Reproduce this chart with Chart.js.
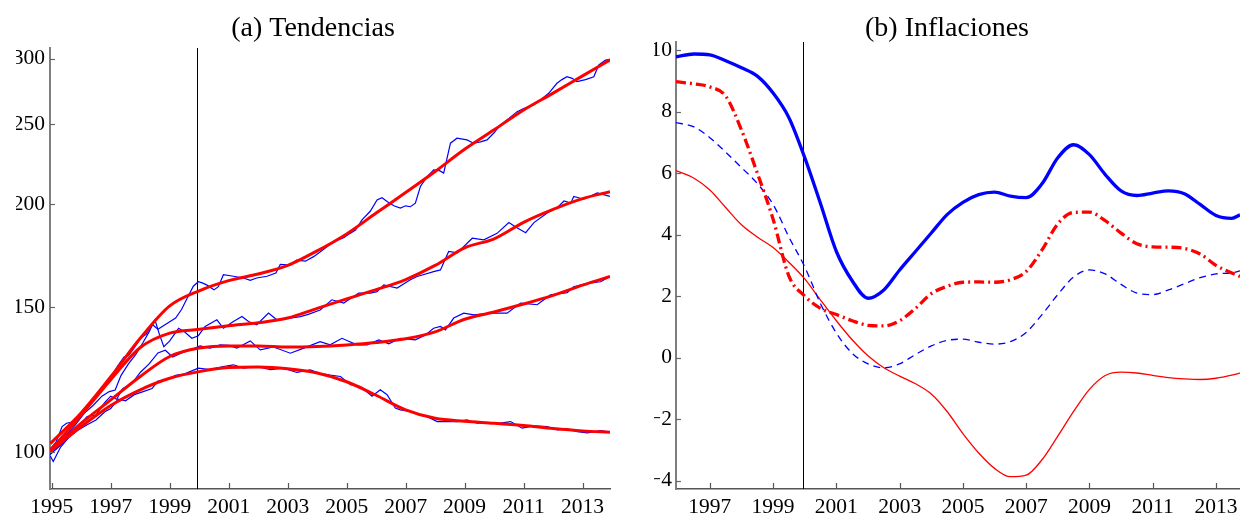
<!DOCTYPE html>
<html>
<head>
<meta charset="utf-8">
<script src="https://cdn.jsdelivr.net/npm/chart.js@4.4.1/dist/chart.umd.min.js"></script>
<style>
  html, body { margin: 0; padding: 0; background: #fff; overflow: hidden; width: 1240px; height: 515px; }
  #wrapA { position: absolute; left: 0; top: 0; }
  #wrapB { position: absolute; left: 630px; top: 0; }
</style>
</head>
<body>
<div id="wrapA"><canvas id="chartA" width="620" height="515"></canvas></div>
<div id="wrapB"><canvas id="chartB" width="630" height="515"></canvas></div>
<script>
// ---- panel (a): price indices (log scale), trends in red ----
const breakYear = 1999.93;
const leftXTicks = [1995, 1997, 1999, 2001, 2003, 2005, 2007, 2009, 2011, 2013];
const leftYTicks = [100, 150, 200, 250, 300];

const trendYears = [1994.95, 1996, 1997, 1998, 1999, 2000, 2001, 2002, 2003, 2004, 2005, 2006, 2007, 2008, 2009, 2010, 2011, 2012, 2013, 2013.93];
const trendA = [102.5, 111.7, 123.5, 137.5, 150.5, 157, 161.5, 164.5, 168.5, 175.5, 184, 195, 206.5, 219, 233, 246, 260, 272.5, 286, 299];
const trendB = [100.5, 111, 122.5, 134, 139.5, 141, 142.4, 143.6, 145.5, 149.5, 153.5, 157.5, 162, 168.5, 177, 181.5, 190, 197, 203, 207];
const trendC = [100.3, 108.5, 115.8, 123.6, 130.7, 133.8, 134.6, 134.6, 134.2, 134.4, 135, 135.9, 137.3, 140, 145, 148, 151.3, 155, 159.5, 163.4];
const trendD = [100.3, 107.5, 114, 119.1, 123, 125.3, 126.7, 126.9, 126.3, 124.8, 121.8, 117.3, 112.6, 110, 109.1, 108.5, 107.8, 106.9, 106.2, 105.8];

const seriesAYears = [1994.95, 1995.15, 1995.35, 1995.5, 1995.7, 1995.9, 1996.1, 1996.35, 1996.6, 1996.85, 1997.05, 1997.25, 1997.45, 1997.6, 1997.8, 1998.0, 1998.2, 1998.4, 1998.6, 1998.8, 1999.0, 1999.2, 1999.4, 1999.6, 1999.8, 1999.97, 2000.1, 2000.25, 2000.5, 2000.65, 2000.82, 2001.16, 2001.5, 2001.73, 2001.95, 2002.3, 2002.6, 2002.75, 2003.1, 2003.3, 2003.6, 2003.88, 2004.2, 2004.56, 2004.9, 2005.13, 2005.3, 2005.52, 2005.8, 2006.03, 2006.2, 2006.37, 2006.6, 2006.82, 2007.0, 2007.16, 2007.33, 2007.5, 2007.73, 2007.95, 2008.15, 2008.29, 2008.52, 2008.74, 2009.08, 2009.3, 2009.54, 2009.76, 2010.0, 2010.21, 2010.5, 2010.78, 2011.0, 2011.34, 2011.6, 2011.85, 2012.13, 2012.3, 2012.47, 2012.65, 2012.81, 2013.1, 2013.38, 2013.55, 2013.78, 2013.93];
const seriesAValues = [101, 103, 107.5, 108.5, 108.8, 110.5, 113, 115.5, 118, 121.5, 124, 127.5, 130.5, 131, 134, 137.5, 139, 143, 141, 142.5, 144, 145.5, 149, 154, 159, 161, 160.5, 159.6, 157.4, 158.8, 164.2, 163.5, 162.7, 161.6, 162.7, 163.5, 165, 169, 168.7, 171, 170.5, 172.7, 176, 180.1, 182, 184.4, 186, 191.3, 196, 202.3, 203.5, 201.4, 199, 197.7, 199, 198.5, 200.5, 210, 215.9, 220, 219.5, 218, 237, 240.3, 239.2, 237, 237.9, 239.2, 244, 249.4, 254, 258.8, 261, 263.7, 268, 272.4, 280.1, 283, 285.3, 284, 281.4, 283, 285.3, 294.8, 298.8, 299.5];

const seriesBYears = [1994.95, 1995.2, 1995.5, 1995.8, 1996.1, 1996.4, 1996.7, 1996.95, 1997.15, 1997.35, 1997.6, 1997.85, 1998.1, 1998.3, 1998.5, 1998.65, 1998.8, 1999.0, 1999.3, 1999.5, 1999.75, 1999.97, 2000.2, 2000.6, 2000.82, 2001.16, 2001.45, 2001.67, 2001.95, 2002.35, 2002.63, 2003.09, 2003.43, 2003.7, 2004.1, 2004.5, 2004.9, 2005.41, 2005.8, 2006.03, 2006.26, 2006.71, 2007.16, 2007.39, 2007.95, 2008.18, 2008.46, 2008.75, 2009.26, 2009.65, 2010.1, 2010.5, 2010.73, 2011.07, 2011.35, 2011.8, 2012.14, 2012.37, 2012.6, 2012.7, 2013.04, 2013.5, 2013.93];
const seriesBValues = [99.5, 101.5, 105, 108, 111.5, 114, 117, 118.5, 119, 124, 128, 131.5, 136, 140, 144.8, 139, 134.3, 136.5, 141.4, 140, 137.5, 138.5, 142.1, 144.8, 141.4, 144.1, 146.1, 144.1, 142.8, 147.5, 144.8, 145.5, 146.1, 147, 148.8, 153.1, 151.7, 156, 156, 156.6, 159.6, 158.2, 161.9, 163.4, 165.6, 166.4, 175.2, 174.5, 181.8, 181, 184.3, 189.9, 187.6, 184.6, 189.9, 195.1, 198, 201.7, 200.5, 204.3, 202.7, 206.3, 204.3];

const seriesCYears = [1994.95, 1995.3, 1995.6, 1995.9, 1996.2, 1996.5, 1996.8, 1997.0, 1997.2, 1997.4, 1997.7, 1998.0, 1998.3, 1998.6, 1998.85, 1999.1, 1999.4, 1999.69, 2000.03, 2000.37, 2000.71, 2001.0, 2001.28, 2001.73, 2002.07, 2002.52, 2003.09, 2003.48, 2004.1, 2004.44, 2004.84, 2005.35, 2005.69, 2006.09, 2006.43, 2006.82, 2007.33, 2007.67, 2007.95, 2008.18, 2008.35, 2008.63, 2008.97, 2009.31, 2009.88, 2010.44, 2010.9, 2011.46, 2011.91, 2012.48, 2012.7, 2013.16, 2013.61, 2013.93];
const seriesCValues = [99.5, 102, 104.5, 107.5, 110.5, 111, 115, 117, 116, 119.5, 121, 125, 128, 132, 133, 130.5, 132, 133.1, 134.6, 133.8, 135, 134.8, 133.8, 136.5, 133.1, 134.2, 131.9, 133.5, 136.2, 135, 137.5, 135, 135, 136.9, 135.4, 137.5, 136.9, 138.8, 141.4, 142.1, 140.8, 145.5, 147.5, 146.8, 147.5, 147.5, 151.7, 151, 155.2, 156.2, 158.8, 160.3, 161, 163.4];

const seriesDYears = [1994.95, 1995.05, 1995.3, 1995.6, 1995.9, 1996.2, 1996.5, 1996.8, 1997.0, 1997.25, 1997.5, 1997.8, 1998.1, 1998.4, 1998.6, 1998.9, 1999.2, 1999.5, 1999.69, 1999.97, 2000.37, 2000.82, 2001.16, 2001.5, 2001.95, 2002.41, 2002.86, 2003.31, 2003.76, 2004.1, 2004.44, 2004.79, 2005.13, 2005.47, 2005.86, 2006.14, 2006.37, 2006.65, 2006.82, 2007.16, 2007.45, 2007.73, 2008.07, 2008.4, 2008.75, 2009.08, 2009.42, 2010.21, 2010.56, 2010.95, 2011.35, 2011.8, 2012.14, 2012.48, 2012.82, 2013.16, 2013.61, 2013.93];
const seriesDValues = [99, 97.5, 101.5, 104.5, 106.5, 108, 109.5, 112, 113, 116, 115.5, 117.5, 118.5, 119.5, 122, 122.5, 124, 124.5, 125.3, 126.5, 126, 127.1, 127.7, 126.5, 127.1, 126, 126.5, 125, 125.9, 124.7, 124.1, 123.6, 120.8, 120.2, 117, 119.1, 117.5, 113.2, 112.6, 112.1, 111, 110.5, 109, 109, 109, 109.5, 108.5, 108.5, 109, 107, 107.7, 107.5, 106.5, 106.8, 106, 105.6, 106.3, 105.8];

// ---- panel (b): inflation rates ----
const rightXTicks = [1997, 1999, 2001, 2003, 2005, 2007, 2009, 2011, 2013];
const rightYTicks = [-4, -2, 0, 2, 4, 6, 8, 10];
const inflYears = [1995.93, 1996.5, 1997, 1997.5, 1998, 1998.5, 1999, 1999.5, 2000, 2000.5, 2001, 2001.5, 2002, 2002.5, 2003, 2003.5, 2004, 2004.5, 2005, 2005.5, 2006, 2006.5, 2007, 2007.5, 2008, 2008.5, 2009, 2009.5, 2010, 2010.5, 2011, 2011.5, 2012, 2012.5, 2013, 2013.5, 2013.76];
const inflBlueThick = [9.78, 9.87, 9.84, 9.65, 9.42, 9.15, 8.6, 7.8, 6.5, 5.0, 3.45, 2.5, 1.93, 2.2, 2.85, 3.45, 4.05, 4.65, 5.05, 5.3, 5.38, 5.25, 5.2, 5.65, 6.5, 6.92, 6.6, 5.95, 5.42, 5.27, 5.35, 5.42, 5.33, 4.98, 4.62, 4.53, 4.64];
const inflRedDashDot = [8.97, 8.9, 8.8, 8.5, 7.4, 6.0, 4.5, 2.65, 2.0, 1.6, 1.4, 1.2, 1.05, 1.03, 1.2, 1.6, 2.08, 2.32, 2.45, 2.46, 2.45, 2.53, 2.8, 3.5, 4.35, 4.72, 4.73, 4.45, 4.05, 3.7, 3.6, 3.59, 3.55, 3.37, 3.0, 2.75, 2.64];
const inflBlueDashed = [7.64, 7.5, 7.15, 6.68, 6.18, 5.66, 4.98, 3.92, 2.95, 1.75, 0.8, 0.14, -0.2, -0.33, -0.2, 0.1, 0.38, 0.56, 0.6, 0.5, 0.44, 0.52, 0.82, 1.4, 2.05, 2.62, 2.85, 2.72, 2.38, 2.1, 2.05, 2.2, 2.4, 2.6, 2.72, 2.76, 2.82];
const inflRedThin = [6.08, 5.83, 5.45, 4.88, 4.32, 3.92, 3.58, 3.1, 2.56, 1.87, 1.2, 0.58, 0.06, -0.33, -0.6, -0.85, -1.18, -1.75, -2.47, -3.1, -3.6, -3.87, -3.82, -3.32, -2.55, -1.75, -1.03, -0.58, -0.47, -0.5, -0.58, -0.65, -0.69, -0.71, -0.67, -0.57, -0.5];

const serif = 'Liberation Serif';

function pts(xs, ys) {
  return xs.map((x, i) => ({ x: x, y: ys[i] }));
}

// vertical marker at the break year plus MATLAB-like inward tick marks
const decor = {
  id: 'decor',
  beforeDatasetsDraw(chart) {
    const { ctx, chartArea: a, scales: { x } } = chart;
    const px = Math.round(x.getPixelForValue(breakYear)) + 0.5;
    ctx.save();
    ctx.strokeStyle = '#000';
    ctx.lineWidth = 1;
    ctx.beginPath();
    ctx.moveTo(px, a.top);
    ctx.lineTo(px, a.bottom);
    ctx.stroke();
    ctx.restore();
  },
  afterDraw(chart) {
    const { ctx, chartArea: a, scales: { x, y } } = chart;
    ctx.save();
    ctx.lineWidth = 1.2;
    ctx.strokeStyle = '#555';
    x.ticks.forEach(t => {
      const px = Math.round(x.getPixelForValue(t.value)) + 0.5;
      ctx.beginPath();
      ctx.moveTo(px, a.bottom);
      ctx.lineTo(px, a.bottom - 6);
      ctx.stroke();
    });
    ctx.strokeStyle = '#666';
    y.ticks.forEach(t => {
      const py = Math.round(y.getPixelForValue(t.value)) + 0.5;
      ctx.beginPath();
      ctx.moveTo(a.left, py);
      ctx.lineTo(a.left + 5, py);
      ctx.stroke();
    });
    ctx.restore();
  }
};

function xAxis(min, max, ticks) {
  return {
    type: 'linear',
    min: min,
    max: max,
    grid: { display: true, drawOnChartArea: false, drawTicks: false },
    border: { display: true, color: '#555', width: 1.5 },
    afterBuildTicks: s => { s.ticks = ticks.map(v => ({ value: v })); },
    afterFit: s => { s.height = 26; },
    ticks: {
      autoSkip: false, maxRotation: 0, padding: 5, color: '#000',
      font: { family: serif, size: 21.5 },
      callback: v => String(v)
    }
  };
}

const redTrend = vals => ({
  data: pts(trendYears, vals),
  borderColor: '#ff0000', borderWidth: 3,
  pointRadius: 0, cubicInterpolationMode: 'monotone'
});
const blueRaw = (xs, vals) => ({
  data: pts(xs, vals),
  borderColor: '#0000ff', borderWidth: 1.2,
  pointRadius: 0, tension: 0
});

new Chart(document.getElementById('chartA'), {
  type: 'line',
  data: {
    datasets: [
      redTrend(trendA), redTrend(trendB), redTrend(trendC), redTrend(trendD),
      blueRaw(seriesAYears, seriesAValues), blueRaw(seriesBYears, seriesBValues),
      blueRaw(seriesCYears, seriesCValues), blueRaw(seriesDYears, seriesDValues)
    ]
  },
  options: {
    responsive: false,
    animation: false,
    layout: { padding: { left: 16, right: 10, top: 0, bottom: 0 } },
    plugins: {
      legend: { display: false },
      tooltip: { enabled: false },
      title: {
        display: true, text: '(a) Tendencias', color: '#000',
        font: { family: serif, size: 28, weight: 'normal', lineHeight: 0.85 },
        padding: { top: 17.1, bottom: 7.1 }
      }
    },
    scales: {
      x: xAxis(1994.94, 2013.93, leftXTicks),
      y: {
        type: 'logarithmic',
        min: 90.3,
        max: 309.1,
        grid: { display: true, drawOnChartArea: false, drawTicks: false },
        border: { display: true, color: '#7f7f7f', width: 2 },
        afterBuildTicks: s => { s.ticks = leftYTicks.map(v => ({ value: v })); },
        afterFit: s => { s.width = 34; },
        ticks: {
          padding: 5, color: '#000',
          font: { family: serif, size: 21.5 },
          callback: v => String(v)
        }
      }
    }
  },
  plugins: [decor]
});

new Chart(document.getElementById('chartB'), {
  type: 'line',
  data: {
    datasets: [
      { data: pts(inflYears, inflBlueThick), borderColor: '#0000ff', borderWidth: 3.3, pointRadius: 0, cubicInterpolationMode: 'monotone' },
      { data: pts(inflYears, inflRedDashDot), borderColor: '#ff0000', borderWidth: 3.3, borderDash: [10, 4, 2, 4], pointRadius: 0, cubicInterpolationMode: 'monotone' },
      { data: pts(inflYears, inflBlueDashed), borderColor: '#0000ff', borderWidth: 1.3, borderDash: [7, 5], pointRadius: 0, cubicInterpolationMode: 'monotone' },
      { data: pts(inflYears, inflRedThin), borderColor: '#ff0000', borderWidth: 1.3, pointRadius: 0, cubicInterpolationMode: 'monotone' }
    ]
  },
  options: {
    responsive: false,
    animation: false,
    layout: { padding: { left: 24, right: 20, top: 0, bottom: 0 } },
    plugins: {
      legend: { display: false },
      tooltip: { enabled: false },
      title: {
        display: true, text: '(b) Inflaciones', color: '#000',
        font: { family: serif, size: 28, weight: 'normal', lineHeight: 0.85 },
        padding: { top: 17.1, bottom: 1.1 }
      }
    },
    scales: {
      x: xAxis(1995.93, 2013.76, rightXTicks),
      y: {
        type: 'linear',
        min: -4.27,
        max: 10.26,
        grid: { display: true, drawOnChartArea: false, drawTicks: false },
        border: { display: true, color: '#7f7f7f', width: 2 },
        afterBuildTicks: s => { s.ticks = rightYTicks.map(v => ({ value: v })); },
        afterFit: s => { s.width = 22; },
        ticks: {
          padding: 4, color: '#000',
          font: { family: serif, size: 21.5 },
          callback: v => (v < 0 ? '\u2212' + Math.abs(v) : String(v))
        }
      }
    }
  },
  plugins: [decor]
});
</script>
</body>
</html>
